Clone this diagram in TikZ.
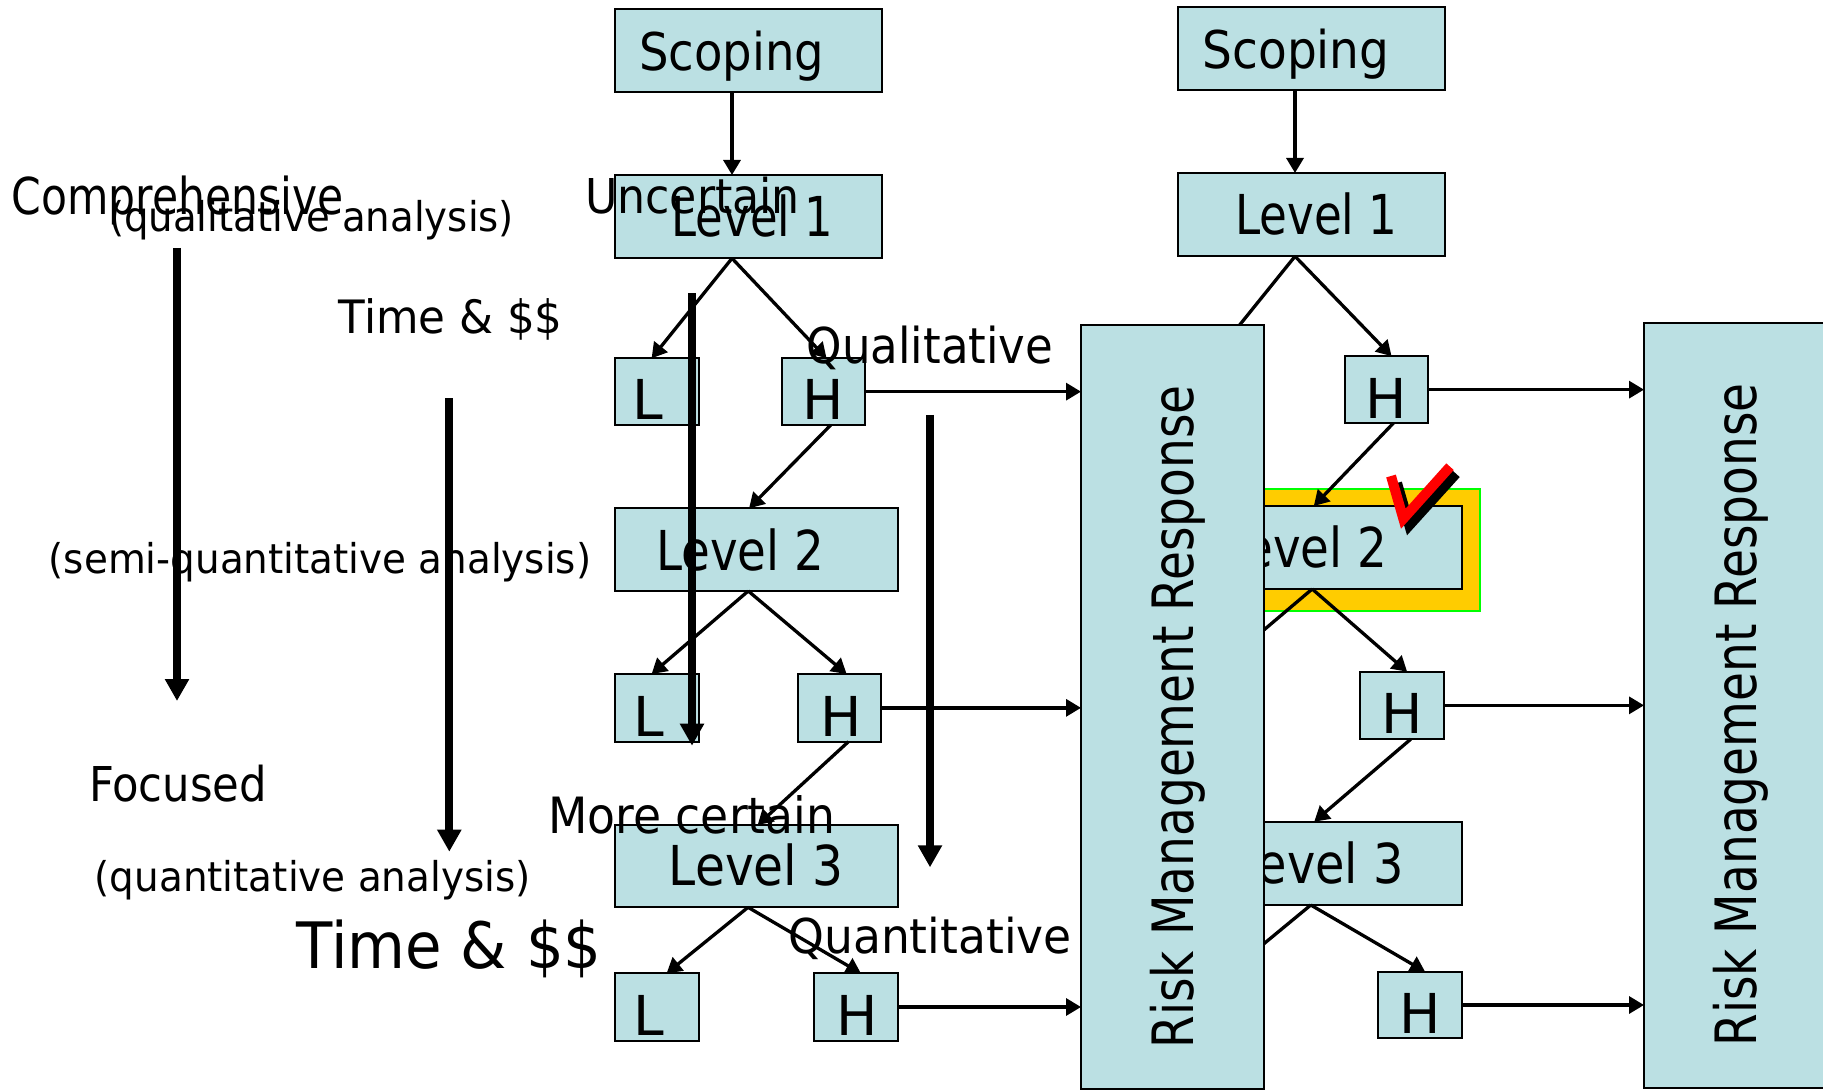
\documentclass[tikz,border=0pt]{standalone}
\usepackage{fontspec}
\setmainfont{DejaVu Sans}
\usetikzlibrary{arrows.meta}
\newlength{\px}\setlength{\px}{0.5pt}
\newcommand{\tw}[3]{\resizebox{#2\px}{\height}{\fontsize{#1pt}{#1pt}\selectfont #3}}
\definecolor{boxfill}{RGB}{187,224,227}
\definecolor{hlyellow}{RGB}{255,204,0}
\definecolor{hlgreen}{RGB}{0,255,0}
\definecolor{tickred}{RGB}{255,0,0}
\begin{document}
\begin{tikzpicture}[x=0.5pt,y=-0.5pt,
  box/.style={draw=black, line width=1pt, fill=boxfill, inner sep=0pt, outer sep=0pt},
  sz/.style 2 args={minimum width={#1*0.5pt}, minimum height={#2*0.5pt}},
  txt/.style={inner sep=0pt, outer sep=0pt, anchor=base west},
  ltr/.style={inner sep=0pt, outer sep=0pt, anchor=base, font=\fontsize{27.5pt}{27.5pt}\selectfont},
  conn/.style={line width=1.65pt, -{Triangle[length=7.5pt,width=8.5pt]}},
  plain/.style={line width=1.65pt},
  bigarrow/.style={line width=4pt, -{Triangle[length=11pt,width=11.5pt]}},
  tick/.style={line width=5pt, line join=miter}
]
\useasboundingbox (0,0) rectangle (1823,1090);

% highlight behind right Level 2
\node[fill=hlyellow, draw=hlgreen, line width=1pt, inner sep=0pt, sz={320}{121.7}] (hl) at (1320,550.15) {};

% ---------- left column boxes ----------
\node[box, sz={266.7}{82.7}] (sc1) at (748.3,50.35) {};
\node[box, sz={266.7}{83.3}] (lv1) at (748.3,216.65) {};
\node[box, sz={84}{66.7}]    (L1)  at (657,391.65) {};
\node[box, sz={83.3}{66.7}]  (H1)  at (823.35,391.65) {};
\node[box, sz={283.3}{82.7}] (lv2) at (756.65,549.65) {};
\node[box, sz={84}{67.7}]    (L2)  at (657,707.85) {};
\node[box, sz={83.2}{67.7}]  (H2)  at (839.6,707.85) {};
\node[box, sz={283.3}{82.3}] (lv3) at (756.65,866.15) {};
\node[box, sz={84}{67.4}]    (L3)  at (657,1007) {};
\node[box, sz={84}{67.4}]    (H3)  at (856.3,1007) {};

% ---------- right column boxes ----------
\node[box, sz={266.7}{83.3}] (sc2) at (1311.3,48.35) {};
\node[box, sz={266.7}{83.3}] (lv1R) at (1311.3,214.65) {};
\node[box, sz={83.7}{67}]    (H1R) at (1386.35,389.65) {};
\node[box, sz={283.3}{83}]   (lv2R) at (1320.2,547.5) {};
\node[box, sz={84}{67.3}]    (H2R) at (1402.3,705.35) {};
\node[box, sz={283.3}{83.3}] (lv3R) at (1320.2,863.35) {};
\node[box, sz={83.8}{66.6}]  (H3R) at (1419.7,1005) {};

\coordinate (L1Rt) at (1214.6,356);
\coordinate (L2Rt) at (1214.6,671.7);
\coordinate (L3Rt) at (1230,971.7);

% ---------- connectors, left ----------
\draw[conn] ([xshift=-8.15pt]sc1.south) -- ([xshift=-8.15pt]lv1.north);
\draw[conn] ([xshift=-8.15pt]lv1.south) -- ([xshift=-2.7pt]L1.north);
\draw[conn] ([xshift=-8.15pt]lv1.south) -- ([xshift=1.6pt]H1.north);
\draw[conn] ([xshift=3.7pt]H1.south) -- ([xshift=-3.8pt]lv2.north);
\draw[conn] ([xshift=-4.2pt]lv2.south) -- ([xshift=-2.7pt]L2.north);
\draw[conn] ([xshift=-4.2pt]lv2.south) -- ([xshift=3.5pt]H2.north);
\draw[conn] ([xshift=4.4pt]H2.south) -- ([xshift=0.5pt]lv3.north);
\draw[conn] ([xshift=-4.3pt]lv3.south) -- ([xshift=4.8pt]L3.north);
\draw[conn] ([xshift=-4.3pt]lv3.south) -- ([xshift=2.3pt]H3.north);

% ---------- connectors, right ----------
\draw[conn] ([xshift=-8.15pt]sc2.south) -- ([xshift=-8.15pt]lv1R.north);
\draw[plain] ([xshift=-8.15pt]lv1R.south) -- (L1Rt);
\draw[conn] ([xshift=-8.15pt]lv1R.south) -- ([xshift=2.6pt]H1R.north);
\draw[conn] ([xshift=3.5pt]H1R.south) -- ([xshift=-3.2pt]lv2R.north);
\draw[plain] ([xshift=-4pt]lv2R.south) -- (L2Rt);
\draw[conn] ([xshift=-4pt]lv2R.south) -- ([xshift=2.4pt]H2R.north);
\draw[conn] ([xshift=4.3pt]H2R.south) -- ([xshift=-3pt]lv3R.north);
\draw[plain] ([xshift=-4.7pt]lv3R.south) -- (L3Rt);
\draw[conn] ([xshift=-4.7pt]lv3R.south) -- ([xshift=2.7pt]H3R.north);

% ---------- check mark ----------
\draw[tick, black] (1397,483) -- (1409.3,525.3) -- (1456,473.7);
\draw[tick, tickred] (1391,476) -- (1403.3,518.7) -- (1450,466.7);

% ---------- box texts ----------
\node[txt] (sc1t) at (639,71) {\tw{26}{185}{Scoping}};
\node[txt] (sc2t) at (1202.5,68.7) {\tw{26}{187}{Scoping}};
\node[txt] (lv1t) at (671.7,236.7) {\tw{27.5}{161.3}{Level 1}};
\node[txt] (lv1Rt) at (1235,235) {\tw{27.5}{162.5}{Level 1}};
\node[txt] (lv2t) at (656,570.7) {\tw{27.5}{168}{Level 2}};
\node[txt] (lv2Rt) at (1219,567) {\tw{27.5}{168}{Level 2}};
\node[txt] (lv3t) at (668.8,885) {\tw{27.5}{175}{Level 3}};
\node[txt] (lv3Rt) at (1231.8,883.3) {\tw{27.5}{172}{Level 3}};
\node[ltr] (L1t) at (647.9,420) {L};
\node[ltr] (H1t) at (823.4,420) {H};
\node[ltr] (L2t) at (649,736.7) {L};
\node[ltr] (H2t) at (841.6,736.7) {H};
\node[ltr] (L3t) at (649.1,1035) {L};
\node[ltr] (H3t) at (857,1035) {H};
\node[ltr] (H1Rt) at (1386.5,418.3) {H};
\node[ltr] (H2Rt) at (1402.5,733.3) {H};
\node[ltr] (H3Rt) at (1419.8,1033.3) {H};

% ---------- free texts ----------
\node[txt] (comp) at (11.6,215) {\tw{25.4}{332}{Comprehensive}};
\node[txt] (qlan) at (109,232) {\tw{20.5}{405}{(qualitative analysis)}};
\node[txt] (unc) at (585,213.3) {\tw{24}{215}{Uncertain}};
\node[txt] (tm1) at (338.7,333.3) {\tw{23}{224}{Time \& \$\$}};
\node[txt] (qual) at (806.7,364) {\tw{24.7}{246.6}{Qualitative}};
\node[txt] (sqan) at (48.8,573.3) {\tw{20.5}{542.5}{(semi-quantitative analysis)}};
\node[txt] (foc) at (89,801.7) {\tw{24}{178}{Focused}};
\node[txt] (morec) at (548.3,833.3) {\tw{25}{287}{More certain}};
\node[txt] (qnan) at (94.7,891.7) {\tw{20.5}{436}{(quantitative analysis)}};
\node[txt] (tm2) at (296.7,968.3) {\tw{32}{305}{Time \& \$\$}};
\node[txt] (quant) at (788.3,953.3) {\tw{24}{283.4}{Quantitative}};

% ---------- thick arrows ----------
\coordinate (aT) at (177,248);   \coordinate (aB) at (177,701);
\coordinate (bT) at (449.3,398.5); \coordinate (bB) at (449.3,851.7);
\coordinate (cT) at (692,293.5); \coordinate (cB) at (692,745.7);
\coordinate (dT) at (930,415);   \coordinate (dB) at (930,867.3);
\draw[bigarrow] (aT) -- (aB);
\draw[bigarrow] (bT) -- (bB);
\draw[bigarrow] (cT) -- (cB);
\draw[bigarrow] (dT) -- (dB);

% ---------- risk management response boxes ----------
\node[box, sz={183}{764}] (rmr1) at (1172.5,707) {};
\node[box, sz={180}{765}] (rmr2) at (1734,705.5) {};
\node[txt, rotate=90] (rmr1t) at (1193.3,1048.3) {\tw{28.5}{663}{Risk Management Response}};
\node[txt, rotate=90] (rmr2t) at (1756.7,1046.6) {\tw{28.5}{663}{Risk Management Response}};

% ---------- horizontal arrows ----------
\draw[conn] (H1.east) -- (H1.east -| rmr1.west);
\draw[conn] (H2.east) -- (H2.east -| rmr1.west);
\draw[conn] (H3.east) -- (H3.east -| rmr1.west);
\draw[conn] (H1R.east) -- (H1R.east -| rmr2.west);
\draw[conn] (H2R.east) -- (H2R.east -| rmr2.west);
\draw[conn] (H3R.east) -- (H3R.east -| rmr2.west);
\end{tikzpicture}
\end{document}
